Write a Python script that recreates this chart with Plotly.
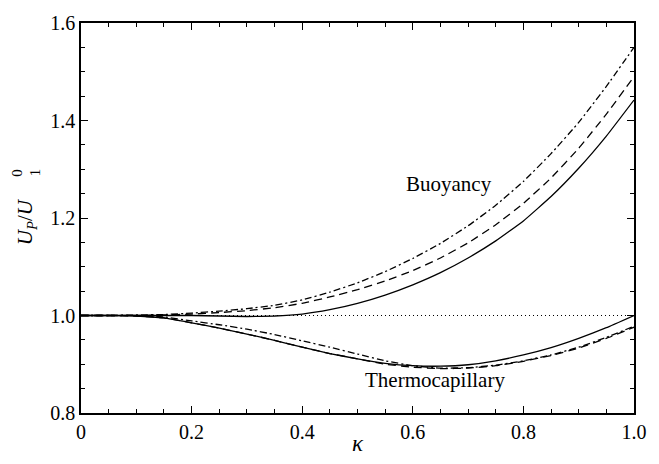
import plotly.graph_objects as go

kappa = [0.0, 0.05, 0.1, 0.15, 0.2, 0.25, 0.3, 0.35, 0.4, 0.45, 0.5,
         0.55, 0.6, 0.65, 0.7, 0.75, 0.8, 0.85, 0.9, 0.95, 1.0]

buoy_solid = [1.0, 1.0, 1.0, 1.0, 1.0, 0.999, 0.998, 0.999, 1.003, 1.012, 1.025,
              1.042, 1.063, 1.088, 1.118, 1.153, 1.194, 1.244, 1.302, 1.368, 1.442]
buoy_dash = [1.0, 1.0, 1.0, 1.001, 1.003, 1.006, 1.01, 1.016, 1.025, 1.038, 1.053,
             1.071, 1.092, 1.118, 1.149, 1.186, 1.230, 1.282, 1.343, 1.413, 1.49]
buoy_dashdot = [1.0, 1.0, 1.001, 1.002, 1.005, 1.009, 1.014, 1.021, 1.032, 1.048, 1.067,
                1.090, 1.117, 1.148, 1.184, 1.226, 1.275, 1.332, 1.396, 1.470, 1.55]

thermo_solid = [1.0, 1.0, 0.999, 0.995, 0.985, 0.974, 0.962, 0.949, 0.935, 0.922, 0.911,
                0.902, 0.897, 0.896, 0.899, 0.907, 0.919, 0.934, 0.953, 0.975, 1.0]
thermo_dash = [1.0, 1.0, 0.999, 0.995, 0.985, 0.974, 0.962, 0.949, 0.935, 0.922, 0.911,
               0.900, 0.894, 0.891, 0.892, 0.897, 0.906, 0.918, 0.933, 0.953, 0.976]
thermo_dashdot = [1.0, 1.0, 1.0, 0.997, 0.989, 0.981, 0.972, 0.961, 0.948, 0.935, 0.921,
                  0.907, 0.897, 0.892, 0.893, 0.898, 0.907, 0.919, 0.935, 0.955, 0.978]

ref_x = [0.0, 1.0]
ref_y = [1.0, 1.0]

x_ticks = [0.0, 0.2, 0.4, 0.6, 0.8, 1.0]
x_ticktext = ["0", "0.2", "0.4", "0.6", "0.8", "1.0"]
y_ticks = [0.8, 1.0, 1.2, 1.4, 1.6]
y_ticktext = ["0.8", "1.0", "1.2", "1.4", "1.6"]

SERIF = "Liberation Serif"
LW = 1.3
DASH = "8px,5px"
DASHDOT = "7px,3px,2px,3px"

fig = go.Figure()
fig.add_trace(go.Scatter(x=ref_x, y=ref_y, mode="lines",
                         line=dict(color="black", width=1, dash="1px,3px")))
for ys, d in [(buoy_solid, "solid"), (buoy_dash, DASH), (buoy_dashdot, DASHDOT),
              (thermo_solid, "solid"), (thermo_dash, DASH), (thermo_dashdot, DASHDOT)]:
    fig.add_trace(go.Scatter(x=kappa, y=ys, mode="lines",
                             line=dict(color="black", width=LW, dash=d, shape="spline",
                                       smoothing=0.3)))

axis_common = dict(
    showline=True, linecolor="black", linewidth=1.5, mirror="allticks",
    ticks="inside", ticklen=7, tickwidth=1, tickcolor="black",
    showgrid=False, zeroline=False,
    tickfont=dict(family=SERIF, size=20, color="black"),
)

fig.update_xaxes(range=[0, 1], tickvals=x_ticks, ticktext=x_ticktext,
                 minor=dict(dtick=0.05, ticks="inside", ticklen=4, tickcolor="black", showgrid=False),
                 **axis_common)
fig.update_yaxes(range=[0.8, 1.6], tickvals=y_ticks, ticktext=y_ticktext,
                 minor=dict(dtick=0.05, ticks="inside", ticklen=4, tickcolor="black", showgrid=False),
                 **axis_common)

L, R, T, B = 81, 12, 13, 51
W, H = 659, 464
pw, ph = W - L - R, H - T - B

def px(xp):
    return (xp - L) / pw

def py(yp):
    return (H - B - yp) / ph

# (text, pixel x, pixel y, font size, angle)
annots = [
    ("Buoyancy", 458, 178, 21, 0),
    ("Thermocapillary", 443, 379, 21, 0),
    ("<i>κ</i>", 364, 444, 23, 0),
    ("<i>U</i><sub><i>P</i></sub>/<i>U</i>", 25, 217, 21, -90),
    ("0", 16, 166, 15, -90),
    ("1", 34, 166, 15, -90),
]
for text, xp, yp, size, ang in annots:
    fig.add_annotation(text=text, x=px(xp), y=py(yp), xref="paper", yref="paper",
                       xanchor="center", yanchor="middle", showarrow=False,
                       textangle=ang,
                       font=dict(family=SERIF, size=size, color="black"))

fig.update_layout(
    width=W, height=H,
    margin=dict(l=L, r=R, t=T, b=B),
    paper_bgcolor="white", plot_bgcolor="white",
    showlegend=False,
)

fig.write_html("out.html")
